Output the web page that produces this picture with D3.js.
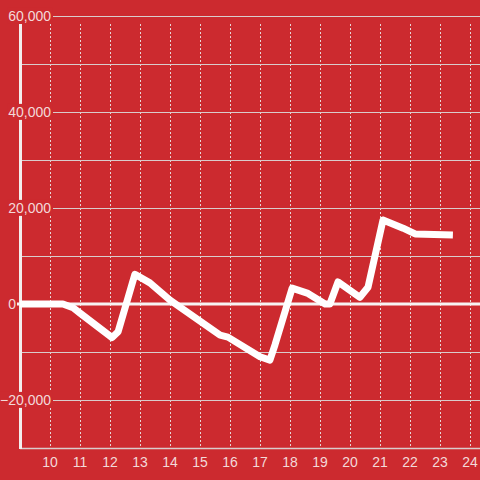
<!DOCTYPE html>
<html>
<head>
<meta charset="utf-8">
<script src="https://cdn.jsdelivr.net/npm/d3@7"></script>
<style>
  body { margin: 0; background: #cc2a2f; }
  svg { display: block; font-family: "Liberation Sans", Arial, sans-serif; }
  .lbl { fill: #f3d9d9; font-size: 14px; }
</style>
</head>
<body>
<div id="chart"></div>
<script>
// hour of day vs running total
const hours = [9, 10.43, 10.77, 11.0, 12.07, 12.27, 12.83, 13.33, 14.0, 15.67, 15.93, 17.0, 17.33, 17.5,
  18.07, 18.6, 19.17, 19.33, 19.6, 20.33, 20.6, 21.1, 21.77, 22.17, 23.43];
const values = [0, 0, -800, -1900, -7000, -5800, 6200, 4400, 800, -6500, -6900, -11000, -11700, -8500,
  3300, 2200, 0, 0, 4600, 1400, 3500, 17500, 15800, 14600, 14400];
const xTicks = [10, 11, 12, 13, 14, 15, 16, 17, 18, 19, 20, 21, 22, 23, 24];
const yGrid = [60000, 50000, 40000, 30000, 20000, 10000, -10000, -20000];
const yLabels = [60000, 40000, 20000, 0, -20000];

const W = 480, H = 480;
const x = d3.scaleLinear().domain([9, 24 + 1 / 3]).range([20, 480]);
const y = d3.scaleLinear().domain([-30000, 60000]).range([448, 16]);
const fmt = d3.format(",");

const svg = d3.select("#chart").append("svg").attr("width", W).attr("height", H);
svg.append("rect").attr("width", W).attr("height", H).attr("fill", "#cc2a2f");

// vertical dotted grid
svg.append("g").selectAll("line").data(xTicks).join("line")
  .attr("x1", d => Math.round(x(d)) + 0.5).attr("x2", d => Math.round(x(d)) + 0.5)
  .attr("y1", 24).attr("y2", y(-30000))
  .attr("stroke", "#e6d6d6").attr("stroke-width", 1).attr("stroke-dasharray", "2,2");

// horizontal grid
svg.append("g").selectAll("line").data(yGrid).join("line")
  .attr("x1", d => yLabels.includes(d) ? 53 : 21).attr("x2", W)
  .attr("y1", d => Math.round(y(d)) + 0.5).attr("y2", d => Math.round(y(d)) + 0.5)
  .attr("stroke", "#d9cccc").attr("stroke-width", 1);

// bottom axis line
svg.append("line").attr("x1", 20).attr("x2", W)
  .attr("y1", y(-30000) + 0.5).attr("y2", y(-30000) + 0.5)
  .attr("stroke", "#d9cccc").attr("stroke-width", 1.5);

// left axis line
svg.append("line").attr("x1", 20.5).attr("x2", 20.5).attr("y1", 24).attr("y2", 449)
  .attr("stroke", "#f3eeee").attr("stroke-width", 3);

// zero line
svg.append("line").attr("x1", 17).attr("x2", W).attr("y1", y(0)).attr("y2", y(0))
  .attr("stroke", "#f7f3f3").attr("stroke-width", 3);

// y labels with background
const yl = svg.append("g").selectAll("g").data(yLabels).join("g")
  .attr("transform", d => `translate(${d === 0 ? 16 : 51},${y(d)})`);
yl.each(function(d) {
  const g = d3.select(this);
  const t = g.append("text").attr("class", "lbl").attr("text-anchor", "end").attr("dy", "0.35em").text(fmt(d));
  const b = t.node().getBBox();
  if (d !== 0) {
    g.insert("rect", "text").attr("x", b.x - 1).attr("y", b.y).attr("width", b.width + 2).attr("height", b.height)
      .attr("fill", "#cc2a2f");
  }
});

// x labels
svg.append("g").selectAll("text").data(xTicks).join("text")
  .attr("class", "lbl").attr("text-anchor", "middle")
  .attr("x", d => x(d)).attr("y", 467).text(d => d);

// series line
const line = d3.line().x((d, i) => x(hours[i])).y(d => y(d));
svg.append("path").datum(values)
  .attr("d", line)
  .attr("fill", "none").attr("stroke", "#ffffff").attr("stroke-width", 7)
  .attr("stroke-linejoin", "round").attr("stroke-linecap", "butt");
</script>
</body>
</html>
